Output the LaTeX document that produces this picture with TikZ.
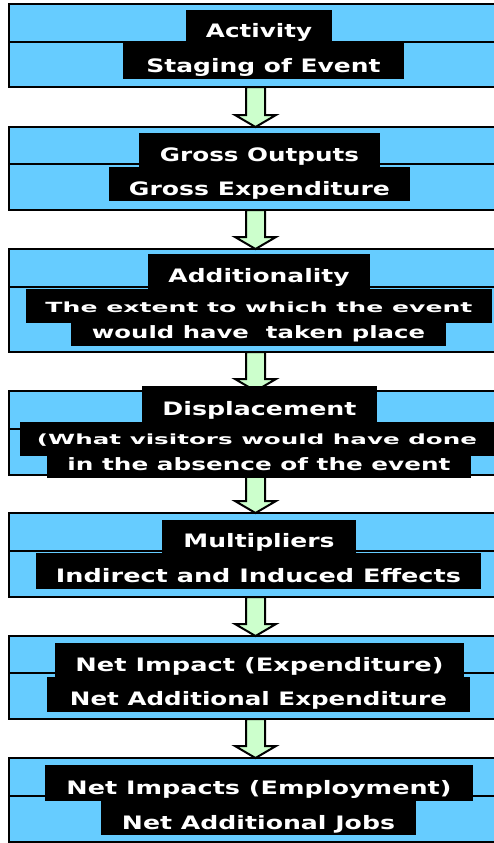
\documentclass[tikz,border=0pt]{standalone}
\usepackage{fontspec}
\setmainfont{DejaVu Sans}
\usetikzlibrary{calc}
\definecolor{boxblue}{HTML}{66CCFF}
\definecolor{arrowgreen}{HTML}{CCFFCC}
% width, font size, baseline drop below centre, text
\newcommand{\fitt}[4]{\raisebox{-#3pt}[0pt][0pt]{\resizebox{#1pt}{\height}{\fontsize{#2}{#2}\selectfont\bfseries #4}}}
\tikzset{
  bluebox/.style={draw=black, line width=2pt, fill=boxblue, rectangle, minimum width=494pt, inner sep=0pt, outer sep=0pt},
  blackbox/.style={fill=black, text=white, rectangle, inner sep=0pt, outer sep=0pt},
  midline/.style={draw=black, line width=1.5pt},
  blockarr/.style={draw=black, line width=2pt, fill=arrowgreen, line join=miter}
}
\begin{document}
\begin{tikzpicture}[x=1pt,y=-1pt]
\useasboundingbox (0,0) rectangle (494,843);
\begin{scope}
\clip (0,0) rectangle (494,843);
% blue boxes
\node[bluebox, minimum height=83pt] (b1) at (255.5,45.5) {};
\node[bluebox, minimum height=83pt] (b2) at (255.5,168.5) {};
\node[bluebox, minimum height=103pt] (b3) at (255.5,300.5) {};
\node[bluebox, minimum height=84pt] (b4) at (255.5,433) {};
\node[bluebox, minimum height=84pt] (b5) at (255.5,555) {};
\node[bluebox, minimum height=83pt] (b6) at (255.5,677.5) {};
\node[bluebox, minimum height=84pt] (b7) at (255.5,800) {};
% middle lines
\draw[midline] (b1.west |- 0,42) -- (b1.east |- 0,42);
\draw[midline] (b2.west |- 0,164) -- (b2.east |- 0,164);
\draw[midline] (b3.west |- 0,287) -- (b3.east |- 0,287);
\draw[midline] (b4.west |- 0,429) -- (b4.east |- 0,429);
\draw[midline] (b5.west |- 0,551) -- (b5.east |- 0,551);
\draw[midline] (b6.west |- 0,673) -- (b6.east |- 0,673);
\draw[midline] (b7.west |- 0,796) -- (b7.east |- 0,796);
% arrows
\foreach \a/\b in {b1/b2,b2/b3,b3/b4,b4/b5,b5/b6,b6/b7}{
  \draw[blockarr] ($(\a.south)+(-9.5,0)$) -- ($(\b.north)+(-9.5,-12)$) -- ($(\b.north)+(-20.5,-12)$)
    -- (\b.north) -- ($(\b.north)+(20.5,-12)$) -- ($(\b.north)+(9.5,-12)$) -- ($(\a.south)+(9.5,0)$) -- cycle;
}
% text boxes
\node[blackbox, minimum width=146pt, minimum height=33pt] (t1a) at (259,26.5) {\fitt{106}{18.5}{11.5}{Activity}};
\node[blackbox, minimum width=281pt, minimum height=35pt] (t1b) at (263.5,61) {\fitt{234}{18.5}{11}{Staging of Event}};
\node[blackbox, minimum width=241pt, minimum height=34pt] (t2a) at (259.5,150) {\fitt{199}{18.5}{11}{Gross Outputs}};
\node[blackbox, minimum width=301pt, minimum height=34pt] (t2b) at (259.5,184) {\fitt{261}{18.5}{11}{Gross Expenditure}};
\node[blackbox, minimum width=222pt, minimum height=35pt] (t3a) at (259,271.5) {\fitt{181}{18.5}{11}{Additionality}};
\node[blackbox, minimum width=466pt, minimum height=34pt] (t3b) at (259,306) {\fitt{427}{14}{6}{The extent to which the event}};
\node[blackbox, minimum width=375pt, minimum height=23pt] (t3c) at (258.5,334.5) {\fitt{333}{17}{4}{would have\ \ taken place}};
\node[blackbox, minimum width=235pt, minimum height=36pt] (t4a) at (259.5,404) {\fitt{194}{18.5}{11}{Displacement}};
\node[blackbox, minimum width=474pt, minimum height=34pt] (t4b) at (257,438.5) {\fitt{440}{14}{6}{(What visitors would have done}};
\node[blackbox, minimum width=424pt, minimum height=23pt] (t4c) at (259,466.5) {\fitt{383}{17}{3.5}{in the absence of the event}};
\node[blackbox, minimum width=194pt, minimum height=33pt] (t5a) at (259,536.5) {\fitt{151}{18.5}{11}{Multipliers}};
\node[blackbox, minimum width=445pt, minimum height=36pt] (t5b) at (258.5,571) {\fitt{405}{18.5}{11}{Indirect and Induced Effects}};
\node[blackbox, minimum width=409pt, minimum height=34pt] (t6a) at (259.5,660) {\fitt{368}{18.5}{11.5}{Net Impact (Expenditure)}};
\node[blackbox, minimum width=423pt, minimum height=35pt] (t6b) at (258.5,694.5) {\fitt{377}{18.5}{10.5}{Net Additional Expenditure}};
\node[blackbox, minimum width=428pt, minimum height=36pt] (t7a) at (259,783) {\fitt{385}{18.5}{11}{Net Impacts (Employment)}};
\node[blackbox, minimum width=315pt, minimum height=34pt] (t7b) at (258.5,818) {\fitt{273}{18.5}{11}{Net Additional Jobs}};
\end{scope}
\end{tikzpicture}
\end{document}
